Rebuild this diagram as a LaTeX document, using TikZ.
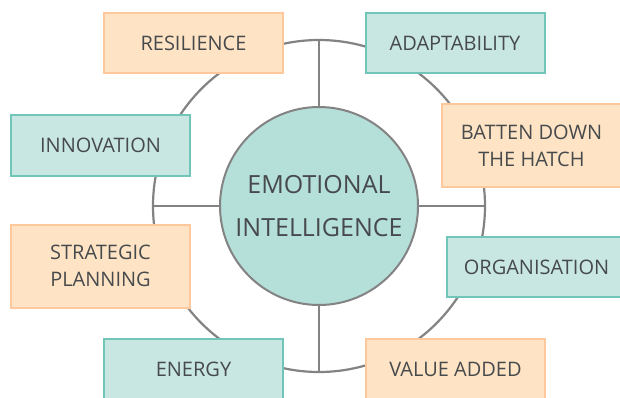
\documentclass[tikz,border=0pt]{standalone}
\usepackage{fontspec}
\setmainfont{Open Sans}

\definecolor{tealfill}{HTML}{C8E7E3}
\definecolor{tealline}{HTML}{72C6B9}
\definecolor{peachfill}{HTML}{FEE4C4}
\definecolor{peachline}{HTML}{FCC89C}
\definecolor{corefill}{HTML}{B5DFD9}
\definecolor{ringgray}{HTML}{838383}
\definecolor{textgray}{HTML}{474A4C}

\tikzset{
    box/.style={rectangle, line width=2pt, minimum width=179pt, text=textgray,
        font=\fontsize{20}{27}\selectfont, align=center, inner sep=0pt},
    tealbox/.style={box, draw=tealline, fill=tealfill, minimum height=60pt},
    peachbox/.style={box, draw=peachline, fill=peachfill, minimum height=60pt},
    spoke/.style={draw=ringgray, line width=2.2pt},
}

\begin{document}
\begin{tikzpicture}[x=1pt, y=-1pt]
        \useasboundingbox (0,0) rectangle (620,398);
        \clip (0,0) rectangle (620,398);

        % outer ring and the core
        \node[shape=circle, draw=ringgray, line width=2.2pt, minimum size=332pt, inner sep=0pt] (ring) at (319,206) {};
        \node[shape=circle, draw=ringgray, fill=corefill, line width=2pt, minimum size=198pt, inner sep=0pt,
            text=textgray, font=\fontsize{25}{43}\selectfont, align=center] (core) at (319,206) {EMOTIONAL\\INTELLIGENCE};

        % spokes
        \path [spoke] (core.north) -- (ring.north);
        \path [spoke] (core.south) -- (ring.south);
        \path [spoke] (core.west) -- (ring.west);
        \path [spoke] (core.east) -- (ring.east);

        % qualities round the ring
        \node[peachbox] (resilience) at (193.5,43) {RESILIENCE};
        \node[tealbox] (adapt) at (455,43) {ADAPTABILITY};
        \node[peachbox, minimum height=83pt] (batten) at (531.5,145.5) {BATTEN DOWN\\THE HATCH};
        \node[tealbox] (innovation) at (100.5,145.5) {INNOVATION};
        \node[peachbox, minimum height=83pt] (strategic) at (100.5,266) {STRATEGIC\\PLANNING};
        \node[tealbox] (organisation) at (536.5,267) {ORGANISATION};
        \node[tealbox] (energy) at (193.5,369) {ENERGY};
        \node[peachbox] (value) at (455.5,369) {VALUE ADDED};
    \end{tikzpicture}
\end{document}
